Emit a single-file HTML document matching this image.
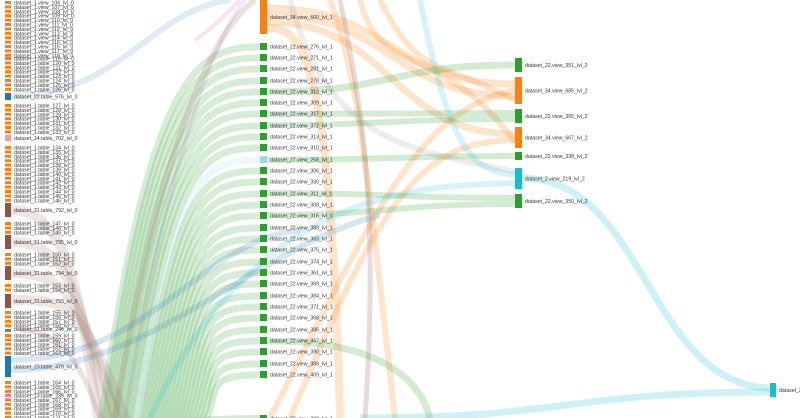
<!DOCTYPE html>
<html><head><meta charset="utf-8"><style>
html,body{margin:0;padding:0;background:#fff;width:800px;height:418px;overflow:hidden}
svg text{font-family:"Liberation Sans",sans-serif;font-size:5.2px;fill:#333}
</style></head><body>
<svg id="s" width="800" height="418" viewBox="0 0 800 418" xmlns="http://www.w3.org/2000/svg"></svg>
<script>
var s=document.getElementById('s'),L='',N='',T='';
var K=0.7;
function P(d,c,w,o){L+='<path d="'+d+'" fill="none" stroke="'+c+'" stroke-width="'+w+'" stroke-opacity="'+(o*K)+'"/>';}
function link(x0,y0,x1,y1,w,c,o){var m=(x0+x1)/2;P('M'+x0+','+y0+' C'+m+','+y0+' '+m+','+y1+' '+x1+','+y1,c,w,o||0.3);}
function node(x,y,h,c,t,w){N+='<rect x="'+x+'" y="'+y+'" width="'+(w||7)+'" height="'+h+'" fill="'+c+'"/>';if(t)T+='<text x="'+(x+(w||7)+3)+'" y="'+(y+h/2+2)+'">'+t+'</text>';}
var OR='#ff7f0e',GR='#2ca02c',CY='#17becf',BL='#1f77b4',BR='#8c564b',PK='#e377c2',PU='#9467bd',GY='#7f7f7f';
var mid=[['dataset_22.view_276_lvl_1',43],['dataset_22.view_271_lvl_1',54],['dataset_22.view_281_lvl_1',65],['dataset_22.view_278_lvl_1',77],['dataset_22.view_312_lvl_1',88],['dataset_22.view_309_lvl_1',99],['dataset_22.view_317_lvl_1',110],['dataset_22.view_372_lvl_1',122],['dataset_22.view_313_lvl_1',133],['dataset_22.view_310_lvl_1',144],['dataset_27.view_258_lvl_1',156],['dataset_22.view_306_lvl_1',167],['dataset_22.view_330_lvl_1',178],['dataset_22.view_311_lvl_1',190],['dataset_22.view_308_lvl_1',201],['dataset_22.view_316_lvl_1',212],['dataset_22.view_380_lvl_1',224],['dataset_22.view_363_lvl_1',235],['dataset_22.view_375_lvl_1',246],['dataset_22.view_374_lvl_1',258],['dataset_22.view_361_lvl_1',269],['dataset_22.view_369_lvl_1',280],['dataset_22.view_384_lvl_1',292],['dataset_22.view_371_lvl_1',303],['dataset_22.view_368_lvl_1',314],['dataset_22.view_386_lvl_1',326],['dataset_22.view_367_lvl_1',337],['dataset_22.view_390_lvl_1',348],['dataset_22.view_388_lvl_1',360],['dataset_22.view_409_lvl_1',371]];
mid.forEach(function(m,i){var c=i==10?'#9edae5':GR;P('M'+(100+i*3.5)+',430 C'+(150+i*2.5)+','+(m[1]+20)+' 200,'+(m[1]+4)+' 260,'+(m[1]+4),c,7,0.28);});
P('M120,430 C200,420 220,419 260,419',GR,8,0.3);
link(267,8,515,84,7,OR);link(267,15,515,96,7,OR);link(267,22,515,134,7,OR);
P('M267,28 C300,28 330,40 340,418',OR,8,0.3);
P('M330,0 C360,80 370,200 395,418',OR,6,0.3);
P('M360,0 C380,80 440,40 515,142',OR,6,0.3);
P('M380,0 C420,80 440,60 515,100',OR,6,0.3);
P('M270,418 C380,200 420,110 515,90',OR,6,0.3);
P('M290,418 C380,200 420,140 515,140',OR,6,0.3);
P('M340,0 C360,100 380,200 365,418',BR,5,0.3);
link(267,92,515,65,7,GR);link(267,114,515,113,6,GR);link(267,125,515,119,6,GR);link(267,160,515,156,6,GR);link(267,193,515,198,6,GR);link(267,215,515,204,6,GR);
P('M267,341 C380,340 420,380 430,418',GR,7,0.3);
link(521,178,773,388,7,CY);link(360,418,773,392,7,CY);
P('M420,0 C450,150 470,170 515,175',CY,6,0.25);
P('M290,0 C330,150 420,150 515,172',GY,6,0.2);
P('M150,418 C250,200 400,185 515,183',CY,6,0.25);
P('M11,360 C150,360 200,240 300,230',BL,6,0.25);
P('M11,370 C150,370 250,250 380,215',BL,6,0.25);
P('M11,96 C120,96 150,10 230,0',BL,6,0.2);
[[210,100],[242,110],[273,120],[300,130]].forEach(function(b){P('M11,'+b[0]+' C70,'+b[0]+' 80,300 '+b[1]+',430',BR,10,0.22);});
P('M255,0 C200,40 150,200 115,418',BR,6,0.25);
P('M245,0 C210,40 160,200 125,418',PU,4,0.2);
P('M240,0 C220,20 210,30 195,40',PK,4,0.3);
P('M20,330 C60,330 80,360 100,418',BR,5,0.25);
var y=1,i;
function row(t,c,h){h=h||3;node(5,y,h,c||OR,t,6);y+=(h>3?h+4.5:4.4);}
for(i=106;i<=118;i++)row('dataset_1.view_'+i+'_lvl_0');
y=57;for(i=119;i<=126;i++)row('dataset_1.table_'+i+'_lvl_0');
y=93;row('dataset_22.table_576_lvl_0',BL,7);
y=104;for(i=127;i<=133;i++)row('dataset_1.table_'+i+'_lvl_0');
y=135;row('dataset_14.table_702_lvl_0','#ff9896',6);
y=146;for(i=134;i<=146;i++)row('dataset_1.table_'+i+'_lvl_0');
y=203;row('dataset_31.table_792_lvl_0',BR,14);
y=222;for(i=147;i<=149;i++)row('dataset_1.table_'+i+'_lvl_0');
y=235;row('dataset_31.table_795_lvl_0',BR,14);
y=253;for(i=150;i<=152;i++)row('dataset_1.table_'+i+'_lvl_0');
y=266;row('dataset_31.table_794_lvl_0',BR,14);
y=284;for(i=153;i<=154;i++)row('dataset_1.table_'+i+'_lvl_0');
y=294;row('dataset_31.table_793_lvl_0',BR,14);
y=311;for(i=155;i<=158;i++)row('dataset_1.table_'+i+'_lvl_0');
node(5,329,3,PU,'',6);T+='<text x="14" y="331">dataset_31.table_246_lvl_0</text>';
y=334;for(i=159;i<=163;i++)row('dataset_1.table_'+i+'_lvl_0');
y=356;row('dataset_23.table_479_lvl_0',BL,21);
y=381;for(i=164;i<=166;i++)row('dataset_1.table_'+i+'_lvl_0');
y=394;row('dataset_13.table_235_lvl_0',PK,3);
for(i=167;i<=171;i++)row('dataset_1.table_'+i+'_lvl_0');
node(260,0,34,OR,'dataset_34.view_660_lvl_1');
mid.forEach(function(m,i){node(260,m[1],7,i==10?'#9edae5':GR,m[0]);});
node(260,415,7,GR,'dataset_22.view_382_lvl_1');
node(515,58,14,GR,'dataset_22.view_351_lvl_2');
node(515,77,27,OR,'dataset_34.view_685_lvl_2');
node(515,109,14,GR,'dataset_22.view_365_lvl_2');
node(515,127,21,OR,'dataset_34.view_667_lvl_2');
node(515,152,8,GR,'dataset_22.view_338_lvl_2');
node(515,168,21,CY,'dataset_2.view_219_lvl_2');
node(515,194,14,GR,'dataset_22.view_350_lvl_2');
node(770,383,14,CY,'dataset_2.view_218_lvl_3',6);
s.innerHTML=L+N+T;
</script>
</body></html>
